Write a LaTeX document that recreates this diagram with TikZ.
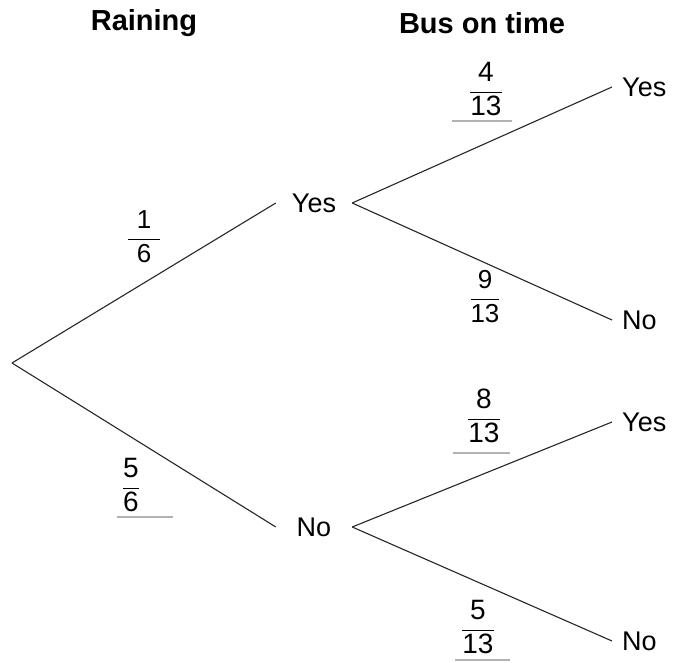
\documentclass[tikz,border=0pt]{standalone}
\usepackage{amsmath}
\usepackage{fontspec}
\setmainfont{Liberation Sans}
\usetikzlibrary{positioning}
\begin{document}
\begin{tikzpicture}[x=1pt,y=-1pt,
    treeHd/.style={font=\fontsize{29}{32}\selectfont\bfseries},
    treeMid/.style={font=\fontsize{27}{30}\selectfont,minimum width=76pt,inner sep=0pt},
    treeEnd/.style={font=\fontsize{27}{30}\selectfont,anchor=west,inner xsep=10pt},
    probPr/.style={font=\fontsize{26}{30}\selectfont},
    probHw/.style={font=\fontsize{28}{32}\selectfont},
    treeLn/.style={line width=1.1pt,black!85},
    ansLn/.style={line width=1.6pt,black!30},
]
\useasboundingbox (0,0) rectangle (673,663);
\node[treeHd] (rainHd) at (144,23) {Raining};
\node[treeHd] (busHd) at (482,23) {Bus on time};
\coordinate (root) at (12,363);
\node[treeMid] (rYes) at (314,203) {Yes};
\node[treeMid] (rNo) at (314,527) {No};
\node[treeEnd] (yYes) at (612,87) {Yes};
\node[treeEnd] (yNo) at (612,320) {No};
\node[treeEnd] (nYes) at (612,422) {Yes};
\node[treeEnd] (nNo) at (612,641) {No};
% branches
\draw[treeLn] (root) -- (rYes.west);
\draw[treeLn] (root) -- (rNo.west);
\draw[treeLn] (rYes.east) -- (yYes.west);
\draw[treeLn] (rYes.east) -- (yNo.west);
\draw[treeLn] (rNo.east) -- (nYes.west);
\draw[treeLn] (rNo.east) -- (nNo.west);
% probabilities
\node[probPr] (pRY) at (144,237) {$\dfrac{\text{\,\,1\,\,}}{\text{\,\,6\,\,}}$};
\node[probHw] (pRN) at (131,485) {$\dfrac{\text{5}}{\text{6}}$};
\node[probHw] (pYY) at (486,89) {$\dfrac{\text{4}}{\text{13}}$};
\node[probPr] (pYN) at (485,297) {$\dfrac{\text{9}}{\text{13}}$};
\node[probHw] (pNY) at (484,416) {$\dfrac{\text{8}}{\text{13}}$};
\node[probHw] (pNN) at (478,627) {$\dfrac{\text{5}}{\text{13}}$};
% answer lines
\draw[ansLn] (117,517) -- (173,517);
\draw[ansLn] (452,121) -- (512,121);
\draw[ansLn] (453,453) -- (510,453);
\draw[ansLn] (455,660) -- (510,660);
\end{tikzpicture}
\end{document}
